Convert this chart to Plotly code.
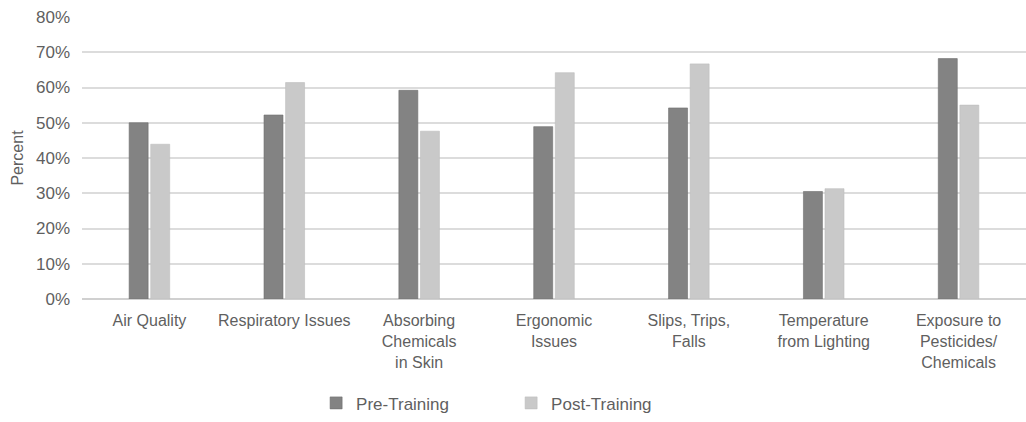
import plotly.graph_objects as go

categories = [
    "Air Quality",
    "Respiratory Issues",
    "Absorbing<br>Chemicals<br>in Skin",
    "Ergonomic<br>Issues",
    "Slips, Trips,<br>Falls",
    "Temperature<br>from Lighting",
    "Exposure to<br>Pesticides/<br>Chemicals",
]
pre_training = [0.50, 0.522, 0.592, 0.489, 0.542, 0.305, 0.682]
post_training = [0.439, 0.614, 0.476, 0.642, 0.667, 0.313, 0.550]
y_ticks = [0, 0.1, 0.2, 0.3, 0.4, 0.5, 0.6, 0.7, 0.8]

text_color = "#5f5f5f"
font_family = "Liberation Sans, Arial, sans-serif"

fig = go.Figure()
fig.add_trace(go.Bar(
    name="Pre-Training", x=categories, y=pre_training,
    marker=dict(color="#838383", line=dict(color="#6f6f6f", width=0.6)),
))
fig.add_trace(go.Bar(
    name="Post-Training", x=categories, y=post_training,
    marker=dict(color="#c9c9c9", line=dict(color="#bdbdbd", width=0.6)),
))

fig.update_layout(
    width=1026, height=422,
    margin=dict(l=82, r=0, t=17, b=121),
    paper_bgcolor="white", plot_bgcolor="white",
    barmode="group", bargap=0.68, bargroupgap=0.12,
    font=dict(family=font_family, size=16, color=text_color),
    showlegend=True,
    legend=dict(
        orientation="h", x=0.248, xanchor="left", y=-0.37, yanchor="middle",
        font=dict(size=17, color=text_color),
        entrywidth=150, entrywidthmode="pixels",
        itemwidth=30,
    ),
)
fig.update_xaxes(
    showgrid=False, showline=False, zeroline=False,
    tickfont=dict(size=16, color=text_color),
    ticks="", ticklabelstandoff=10,
)
fig.update_yaxes(
    range=[0, 0.8], tickvals=y_ticks, tickformat=".0%",
    showgrid=True, gridcolor="#dcdcdc", gridwidth=1.5,
    zeroline=True, zerolinecolor="#d0d0d0", zerolinewidth=1.5,
    tickfont=dict(size=17, color=text_color),
    ticklabelstandoff=11,
    title=dict(text="Percent", font=dict(size=16, color=text_color), standoff=8),
)

fig.write_html("out.html")
